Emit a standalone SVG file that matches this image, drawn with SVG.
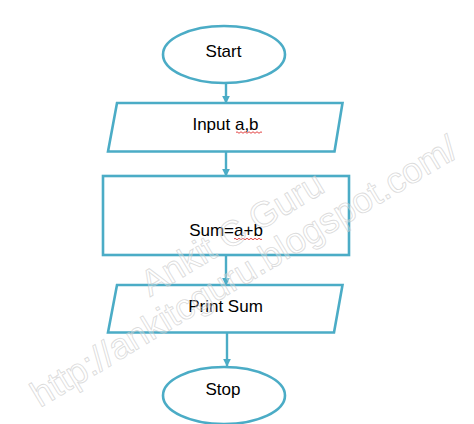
<svg xmlns="http://www.w3.org/2000/svg" width="474" height="424" viewBox="0 0 474 424">
<defs>
<style>
.shape{fill:#ffffff;stroke:#4bacc6;stroke-width:2.6}
.lbl{font-family:"Liberation Sans",Arial,sans-serif;font-size:17px;fill:#000000;text-anchor:middle}
.wm{font-family:"Liberation Sans",Arial,sans-serif;font-size:36px;fill:#ffffff;fill-opacity:0.3;stroke:#c4c4c4;stroke-opacity:0.6;stroke-width:0.9}
.conn{stroke:#4bacc6;stroke-width:2.4;fill:none}
.squig{stroke:#e03030;stroke-width:0.9;fill:none}
</style>
<marker id="arr" viewBox="0 0 10 10" refX="9" refY="5" markerWidth="3.2" markerHeight="3.2" orient="auto" markerUnits="strokeWidth">
<path d="M0,0 L10,5 L0,10 z" fill="#4bacc6"/>
</marker>
</defs>
<rect width="474" height="424" fill="#ffffff"/>
<g id="connectors">
<line class="conn" x1="226" y1="83" x2="226" y2="103" marker-end="url(#arr)"/>
<line class="conn" x1="226" y1="152" x2="226" y2="176" marker-end="url(#arr)"/>
<line class="conn" x1="226" y1="255" x2="226" y2="285" marker-end="url(#arr)"/>
<line class="conn" x1="227" y1="333" x2="227" y2="366" marker-end="url(#arr)"/>
</g>
<g id="start">
<ellipse class="shape" cx="224" cy="54.5" rx="61" ry="28.5"/>
<text class="lbl" x="223.5" y="56.5">Start</text>
</g>
<g id="input">
<polygon class="shape" points="117,103 342.5,103 334.5,151.5 108,151.5"/>
<text class="lbl" x="225.5" y="130">Input a,b</text>
<path class="squig" d="M236,132.5 q1,-1.5 2,0 t2,0 t2,0 t2,0 t2,0 t2,0 t2,0 t2,0 t2,0 t2,0 t2,0 t2,0 t2,0"/>
</g>
<g id="process">
<rect class="shape" x="103" y="176" width="246" height="79"/>
<text class="lbl" x="226" y="236">Sum=a+b</text>
<path class="squig" d="M234,239 q1,-1.5 2,0 t2,0 t2,0 t2,0 t2,0 t2,0 t2,0 t2,0 t2,0 t2,0 t2,0 t2,0 t2,0 t2,0"/>
</g>
<g id="output">
<polygon class="shape" points="117,285 342.5,285 334,332.5 108,332.5"/>
<text class="lbl" x="225.5" y="312">Print Sum</text>
</g>
<g id="stop">
<ellipse class="shape" cx="224" cy="395.5" rx="61" ry="28.5"/>
<text class="lbl" x="223" y="395">Stop</text>
</g>
<g id="watermark">
<text class="wm" transform="translate(40,408) rotate(-31)">http://ankitcguru.blogspot.com/</text>
<text class="wm" transform="translate(150,297) rotate(-31)">Ankit C Guru</text>
</g>
</svg>
